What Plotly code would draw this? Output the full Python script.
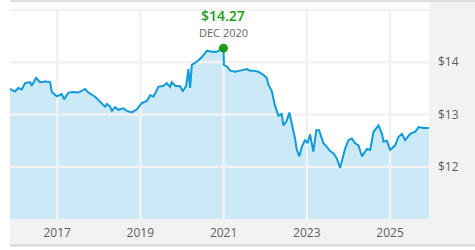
import plotly.graph_objects as go

# ---- data ----
dates = [
    "2015-11-14", "2015-12-28", "2016-01-26", "2016-02-25", "2016-03-25", "2016-05-08",
    "2016-05-23", "2016-06-30", "2016-08-04", "2016-09-17", "2016-10-31", "2016-11-15",
    "2016-12-29", "2017-02-11", "2017-03-03", "2017-04-10", "2017-05-23", "2017-07-06",
    "2017-09-03", "2017-10-02", "2017-11-30", "2018-01-13", "2018-02-26", "2018-03-13",
    "2018-04-11", "2018-04-26", "2018-05-24", "2018-06-22", "2018-08-05", "2018-09-04",
    "2018-10-18", "2018-12-01", "2019-01-14", "2019-02-27", "2019-03-28", "2019-04-26",
    "2019-06-09", "2019-07-23", "2019-08-21", "2019-09-19", "2019-10-04", "2019-11-02",
    "2019-12-16", "2020-01-09", "2020-02-07", "2020-02-27", "2020-03-13", "2020-03-28",
    "2020-05-11", "2020-06-24", "2020-08-07", "2020-09-20", "2020-11-03", "2020-12-02",
    "2020-12-31", "2021-01-04", "2021-01-30", "2021-02-28", "2021-04-13", "2021-05-26",
    "2021-07-24", "2021-08-22", "2021-09-20", "2021-11-02", "2021-12-16", "2022-01-15",
    "2022-01-29", "2022-02-28", "2022-03-28", "2022-04-27", "2022-05-26", "2022-06-10",
    "2022-07-09", "2022-08-01", "2022-08-22", "2022-09-20", "2022-10-05", "2022-10-28",
    "2022-11-18", "2022-12-17", "2023-01-07", "2023-01-30", "2023-02-28", "2023-03-26",
    "2023-04-19", "2023-05-04", "2023-05-27", "2023-06-26", "2023-07-25", "2023-08-23",
    "2023-09-22", "2023-10-21", "2023-12-04", "2024-01-02", "2024-01-31", "2024-03-01",
    "2024-03-30", "2024-04-29", "2024-06-12", "2024-07-11", "2024-08-09", "2024-09-22",
    "2024-10-22", "2024-11-05", "2024-12-04", "2025-01-02", "2025-02-15", "2025-03-16",
    "2025-04-15", "2025-05-14", "2025-06-27", "2025-08-10", "2025-09-08", "2025-10-22",
    "2025-12-08",
]
prices = [
    13.49, 13.44, 13.51, 13.48, 13.60, 13.62,
    13.55, 13.70, 13.62, 13.63, 13.62, 13.43,
    13.35, 13.39, 13.29, 13.42, 13.43, 13.42,
    13.49, 13.42, 13.34, 13.24, 13.15, 13.20,
    13.15, 13.07, 13.14, 13.09, 13.12, 13.07,
    13.04, 13.10, 13.22, 13.26, 13.37, 13.34,
    13.53, 13.55, 13.60, 13.53, 13.62, 13.55,
    13.54, 13.45, 13.54, 13.87, 13.51, 13.95,
    14.01, 14.10, 14.22, 14.20, 14.20, 14.24,
    14.27, 13.95, 13.92, 13.84, 13.82, 13.84,
    13.87, 13.84, 13.84, 13.82, 13.76, 13.70,
    13.57, 13.45, 13.17, 12.98, 13.01, 12.79,
    12.88, 13.04, 12.85, 12.54, 12.33, 12.20,
    12.38, 12.51, 12.45, 12.62, 12.29, 12.70,
    12.70, 12.60, 12.45, 12.38, 12.30, 12.26,
    12.16, 11.98, 12.35, 12.51, 12.54, 12.45,
    12.41, 12.20, 12.34, 12.32, 12.67, 12.79,
    12.63, 12.48, 12.50, 12.32, 12.41, 12.57,
    12.63, 12.51, 12.63, 12.67, 12.76, 12.74,
    12.74,
]
peak_date = "2020-12-31"
peak_price = 14.27
peak_label = "$14.27"
peak_month = "DEC 2020"

x_tick_vals = ["2017-01-01", "2019-01-01", "2021-01-01", "2023-01-01", "2025-01-01"]
x_tick_text = ["2017", "2019", "2021", "2023", "2025"]
y_tick_vals = [12, 13, 14]
y_tick_text = ["$12", "$13", "$14"]
y_grid_vals = [12, 13, 14, 15]
x_range = ["2015-11-14", "2025-12-09"]
y_range = [11, 15.02]

LINE = "#0f9ad9"
FILL = "#cbe9f7"
GRID = "#f2f2f2"
GREEN = "#1a9c1a"
PANEL = "#f2f2f2"
EDGE = "#d9d9d9"
TXT = "#5f5f5f"

fig = go.Figure()

# area fill
fig.add_trace(go.Scatter(x=dates, y=prices, mode="lines", fill="tozeroy",
                         fillcolor=FILL, line=dict(width=0, color=FILL),
                         hoverinfo="skip", showlegend=False))

# grid lines drawn above the fill
gx, gy = [], []
for d in x_tick_vals:
    gx += [d, d, None]
    gy += [y_range[0], y_range[1], None]
for v in y_grid_vals:
    gx += [x_range[0], x_range[1], None]
    gy += [v, v, None]
fig.add_trace(go.Scatter(x=gx, y=gy, mode="lines", line=dict(color=GRID, width=2.5),
                         hoverinfo="skip", showlegend=False))

# price line
fig.add_trace(go.Scatter(x=dates, y=prices, mode="lines",
                         line=dict(color=LINE, width=2), showlegend=False))

# peak marker
fig.add_trace(go.Scatter(x=[peak_date], y=[peak_price], mode="markers",
                         marker=dict(color=GREEN, size=9), showlegend=False))

fig.add_annotation(x=peak_date, y=peak_price, text=peak_month, showarrow=False,
                   yshift=15.5, yanchor="middle", borderpad=0,
                   font=dict(family="Open Sans", size=11, color="#666666"))
fig.add_annotation(x=peak_date, y=peak_price, text=peak_label, showarrow=False,
                   yshift=32.5, yanchor="middle", borderpad=0,
                   font=dict(family="Open Sans", size=14, color=GREEN, weight=600))

W = 475
H = 250
ML, MR, MT, MB = 10, 46, 9, 28
pw = W - ML - MR
ph = H - MT - MB


def px_x(p):
    return (p - ML) / pw


def px_y(p):
    return (H - MB - p) / ph


shapes = [
    # right panel
    dict(type="rect", xref="paper", yref="paper", x0=px_x(429), x1=px_x(475),
         y0=px_y(247.7), y1=px_y(2), fillcolor=PANEL, line_width=0, layer="below"),
    # bottom panel
    dict(type="rect", xref="paper", yref="paper", x0=px_x(10), x1=px_x(475),
         y0=px_y(247.7), y1=px_y(222), fillcolor=PANEL, line_width=0, layer="below"),
    # top edge
    dict(type="rect", xref="paper", yref="paper", x0=px_x(10), x1=px_x(475),
         y0=px_y(2), y1=px_y(0), fillcolor=EDGE, line_width=0, layer="below"),
    # bottom edge
    dict(type="rect", xref="paper", yref="paper", x0=px_x(10), x1=px_x(475),
         y0=px_y(250), y1=px_y(247.7), fillcolor=EDGE, line_width=0, layer="below"),
]

fig.update_layout(
    width=W, height=H,
    margin=dict(l=ML, r=MR, t=MT, b=MB, pad=0),
    paper_bgcolor="white", plot_bgcolor="white",
    shapes=shapes,
    font=dict(family="Open Sans", color=TXT, size=12),
    xaxis=dict(type="date", range=x_range, showgrid=False, zeroline=False,
               showline=False, ticks="", tickvals=x_tick_vals, ticktext=x_tick_text,
               ticklabelstandoff=5, tickfont=dict(size=12, color=TXT), fixedrange=True),
    yaxis=dict(range=y_range, side="right", showgrid=False, zeroline=False,
               showline=False, ticks="", tickvals=y_tick_vals, ticktext=y_tick_text,
               ticklabelstandoff=8, tickfont=dict(size=12, color=TXT), fixedrange=True),
    hovermode=False,
)

fig.write_html("out.html")
